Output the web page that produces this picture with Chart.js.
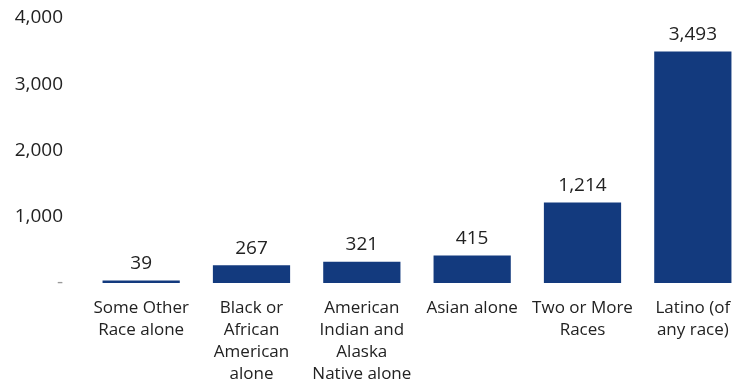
<!DOCTYPE html>
<html>
<head>
<meta charset="utf-8">
<script src="https://cdn.jsdelivr.net/npm/chart.js@4.4.1/dist/chart.umd.min.js"></script>
<style>
  html, body { margin: 0; padding: 0; background: #fff; overflow: hidden; }
  #wrap { position: relative; width: 748px; height: 387px; }
</style>
</head>
<body>
<div id="wrap"><canvas id="barChart"></canvas></div>
<script>
// categories (multi-line labels) and counts
const groups = [
    ["Some Other", "Race alone"],
    ["Black or", "African", "American", "alone"],
    ["American", "Indian and", "Alaska", "Native alone"],
    ["Asian alone"],
    ["Two or More", "Races"],
    ["Latino (of", "any race)"]
];
const counts = [39, 267, 321, 415, 1214, 3493];
const yTicks = [0, 1000, 2000, 3000, 4000];

const barColor = "#133a7e";
const textColor = "#222222";
const fontFamily = "'Open Sans', 'Liberation Sans', sans-serif";

// writes the value above each bar
const valueLabels = {
    id: "valueLabels",
    afterDatasetsDraw(chart) {
        const ctx = chart.ctx;
        const meta = chart.getDatasetMeta(0);
        ctx.save();
        ctx.font = "19px " + fontFamily;
        ctx.fillStyle = textColor;
        ctx.textAlign = "center";
        ctx.textBaseline = "middle";
        meta.data.forEach(function(bar, i) {
            ctx.fillText(counts[i].toLocaleString("en-US"), bar.x, bar.y - 17);
        });
        ctx.restore();
    }
};

var barChart = new Chart(document.getElementById("barChart"), {
    type: "bar",
    data: {
        labels: groups,
        datasets: [{
            data: counts,
            backgroundColor: barColor,
            borderWidth: 0,
            barPercentage: 0.7,
            categoryPercentage: 1.0
        }]
    },
    options: {
        responsive: true,
        maintainAspectRatio: false,
        animation: false,
        layout: { padding: { top: 18, left: 0, right: 0, bottom: 0 } },
        plugins: {
            legend: { display: false },
            tooltip: { enabled: false }
        },
        scales: {
            x: {
                grid: { display: false, drawTicks: false },
                border: { display: false },
                ticks: {
                    color: textColor,
                    font: { family: fontFamily, size: 17, lineHeight: 1.3 },
                    padding: 14,
                    maxRotation: 0,
                    autoSkip: false
                },
                afterFit: function(scale) { scale.height = 104; }
            },
            y: {
                min: 0,
                max: 4000,
                grid: { display: false, drawTicks: false },
                border: { display: false },
                afterBuildTicks: function(scale) {
                    scale.ticks = yTicks.map(v => ({ value: v }));
                },
                ticks: {
                    color: ctx => ctx.tick.value === 0 ? "#999999" : textColor,
                    font: { family: fontFamily, size: 19 },
                    padding: 23,
                    callback: v => v === 0 ? "-" : v.toLocaleString("en-US")
                },
                afterFit: function(scale) {
                    scale.width = 86;
                    // the top label may sit in the layout padding
                    scale.paddingTop = 0;
                    scale.paddingBottom = 0;
                }
            }
        }
    },
    plugins: [valueLabels]
});
</script>
</body>
</html>
